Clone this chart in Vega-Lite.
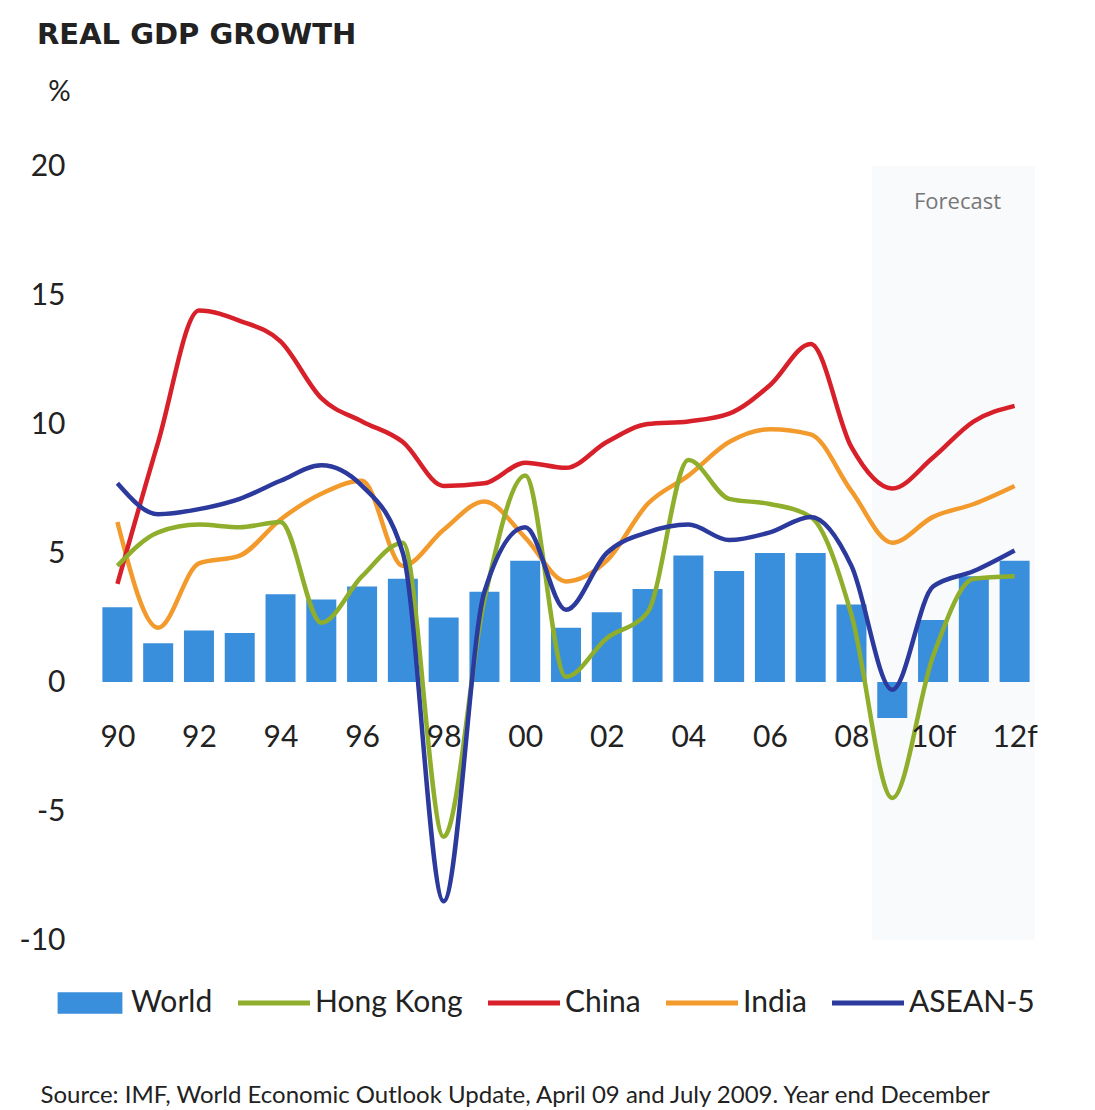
{
  "$schema": "https://vega.github.io/schema/vega-lite/v6.json",
  "width": 948,
  "height": 774,
  "autosize": {"type": "none"},
  "padding": {"left": 92, "top": 166, "right": 55, "bottom": 170},
  "background": "white",
  "config": {
    "view": {"stroke": null},
    "font": "Lato",
    "axis": {"labelFont": "Lato", "titleFont": "Lato", "labelColor": "#222", "titleColor": "#222"}
  },
  "title": {
    "text": "REAL GDP GROWTH",
    "anchor": "start",
    "frame": "group",
    "dx": -55,
    "font": "DejaVu Sans",
    "fontSize": 29,
    "fontWeight": "bold",
    "color": "#222",
    "offset": 28
  },
  "datasets": {
    "world": [
      {"year": 1990, "value": 2.9}, {"year": 1991, "value": 1.5}, {"year": 1992, "value": 2.0},
      {"year": 1993, "value": 1.9}, {"year": 1994, "value": 3.4}, {"year": 1995, "value": 3.2},
      {"year": 1996, "value": 3.7}, {"year": 1997, "value": 4.0}, {"year": 1998, "value": 2.5},
      {"year": 1999, "value": 3.5}, {"year": 2000, "value": 4.7}, {"year": 2001, "value": 2.1},
      {"year": 2002, "value": 2.7}, {"year": 2003, "value": 3.6}, {"year": 2004, "value": 4.9},
      {"year": 2005, "value": 4.3}, {"year": 2006, "value": 5.0}, {"year": 2007, "value": 5.0},
      {"year": 2008, "value": 3.0}, {"year": 2009, "value": -1.4}, {"year": 2010, "value": 2.4},
      {"year": 2011, "value": 4.1}, {"year": 2012, "value": 4.7}
    ],
    "series": [
      {"series": "India", "year": 1990, "value": 6.2}, {"series": "India", "year": 1991, "value": 2.1},
      {"series": "India", "year": 1992, "value": 4.6}, {"series": "India", "year": 1993, "value": 4.9},
      {"series": "India", "year": 1994, "value": 6.3}, {"series": "India", "year": 1995, "value": 7.3},
      {"series": "India", "year": 1996, "value": 7.8}, {"series": "India", "year": 1997, "value": 4.5},
      {"series": "India", "year": 1998, "value": 5.9}, {"series": "India", "year": 1999, "value": 7.0},
      {"series": "India", "year": 2000, "value": 5.6}, {"series": "India", "year": 2001, "value": 3.9},
      {"series": "India", "year": 2002, "value": 4.7}, {"series": "India", "year": 2003, "value": 6.9},
      {"series": "India", "year": 2004, "value": 8.0}, {"series": "India", "year": 2005, "value": 9.3},
      {"series": "India", "year": 2006, "value": 9.8}, {"series": "India", "year": 2007, "value": 9.6},
      {"series": "India", "year": 2008, "value": 7.4}, {"series": "India", "year": 2009, "value": 5.4},
      {"series": "India", "year": 2010, "value": 6.4}, {"series": "India", "year": 2011, "value": 6.9},
      {"series": "India", "year": 2012, "value": 7.6},
      {"series": "China", "year": 1990, "value": 3.8}, {"series": "China", "year": 1991, "value": 9.3},
      {"series": "China", "year": 1992, "value": 14.4}, {"series": "China", "year": 1993, "value": 14.0},
      {"series": "China", "year": 1994, "value": 13.2}, {"series": "China", "year": 1995, "value": 11.0},
      {"series": "China", "year": 1996, "value": 10.1}, {"series": "China", "year": 1997, "value": 9.3},
      {"series": "China", "year": 1998, "value": 7.6}, {"series": "China", "year": 1999, "value": 7.7},
      {"series": "China", "year": 2000, "value": 8.5}, {"series": "China", "year": 2001, "value": 8.3},
      {"series": "China", "year": 2002, "value": 9.3}, {"series": "China", "year": 2003, "value": 10.0},
      {"series": "China", "year": 2004, "value": 10.1}, {"series": "China", "year": 2005, "value": 10.4},
      {"series": "China", "year": 2006, "value": 11.5}, {"series": "China", "year": 2007, "value": 13.1},
      {"series": "China", "year": 2008, "value": 9.1}, {"series": "China", "year": 2009, "value": 7.5},
      {"series": "China", "year": 2010, "value": 8.7}, {"series": "China", "year": 2011, "value": 10.1},
      {"series": "China", "year": 2012, "value": 10.7},
      {"series": "Hong Kong", "year": 1990, "value": 4.5}, {"series": "Hong Kong", "year": 1991, "value": 5.8},
      {"series": "Hong Kong", "year": 1992, "value": 6.1}, {"series": "Hong Kong", "year": 1993, "value": 6.0},
      {"series": "Hong Kong", "year": 1994, "value": 6.2}, {"series": "Hong Kong", "year": 1995, "value": 2.3},
      {"series": "Hong Kong", "year": 1996, "value": 4.1}, {"series": "Hong Kong", "year": 1997, "value": 5.4},
      {"series": "Hong Kong", "year": 1998, "value": -6.0}, {"series": "Hong Kong", "year": 1999, "value": 3.2},
      {"series": "Hong Kong", "year": 2000, "value": 8.0}, {"series": "Hong Kong", "year": 2001, "value": 0.2},
      {"series": "Hong Kong", "year": 2002, "value": 1.7}, {"series": "Hong Kong", "year": 2003, "value": 2.7},
      {"series": "Hong Kong", "year": 2004, "value": 8.6}, {"series": "Hong Kong", "year": 2005, "value": 7.1},
      {"series": "Hong Kong", "year": 2006, "value": 6.9}, {"series": "Hong Kong", "year": 2007, "value": 6.4},
      {"series": "Hong Kong", "year": 2008, "value": 2.6}, {"series": "Hong Kong", "year": 2009, "value": -4.5},
      {"series": "Hong Kong", "year": 2010, "value": 1.0}, {"series": "Hong Kong", "year": 2011, "value": 4.0},
      {"series": "Hong Kong", "year": 2012, "value": 4.1},
      {"series": "ASEAN-5", "year": 1990, "value": 7.7}, {"series": "ASEAN-5", "year": 1991, "value": 6.5},
      {"series": "ASEAN-5", "year": 1992, "value": 6.7}, {"series": "ASEAN-5", "year": 1993, "value": 7.1},
      {"series": "ASEAN-5", "year": 1994, "value": 7.8}, {"series": "ASEAN-5", "year": 1995, "value": 8.4},
      {"series": "ASEAN-5", "year": 1996, "value": 7.6}, {"series": "ASEAN-5", "year": 1997, "value": 5.0},
      {"series": "ASEAN-5", "year": 1998, "value": -8.5}, {"series": "ASEAN-5", "year": 1999, "value": 3.5},
      {"series": "ASEAN-5", "year": 2000, "value": 6.0}, {"series": "ASEAN-5", "year": 2001, "value": 2.8},
      {"series": "ASEAN-5", "year": 2002, "value": 5.0}, {"series": "ASEAN-5", "year": 2003, "value": 5.8},
      {"series": "ASEAN-5", "year": 2004, "value": 6.1}, {"series": "ASEAN-5", "year": 2005, "value": 5.5},
      {"series": "ASEAN-5", "year": 2006, "value": 5.8}, {"series": "ASEAN-5", "year": 2007, "value": 6.4},
      {"series": "ASEAN-5", "year": 2008, "value": 4.5}, {"series": "ASEAN-5", "year": 2009, "value": -0.3},
      {"series": "ASEAN-5", "year": 2010, "value": 3.7}, {"series": "ASEAN-5", "year": 2011, "value": 4.3},
      {"series": "ASEAN-5", "year": 2012, "value": 5.1}
    ],
    "forecast": [{"start": 2008.5, "end": 2012.5, "label": "Forecast"}]
  },
  "layer": [
    {
      "data": {"name": "forecast"},
      "mark": {"type": "rect", "color": "#f8fafb"},
      "encoding": {
        "x": {"field": "start", "type": "quantitative"},
        "x2": {"field": "end"}
      }
    },
    {
      "data": {"name": "forecast"},
      "mark": {"type": "text", "font": "Open Sans", "fontSize": 22, "color": "#777", "align": "center", "baseline": "middle"},
      "encoding": {
        "x": {"datum": 2010.6, "type": "quantitative"},
        "y": {"datum": 18.6, "type": "quantitative"},
        "text": {"field": "label"}
      }
    },
    {
      "data": {"name": "world"},
      "mark": {"type": "bar", "size": 30, "color": "#3a8fdc"},
      "encoding": {
        "x": {
          "field": "year", "type": "quantitative",
          "scale": {"domain": [1989.5, 2012.5], "nice": false, "zero": false},
          "axis": {
            "values": [1990, 1992, 1994, 1996, 1998, 2000, 2002, 2004, 2006, 2008, 2010, 2012],
            "labelExpr": "substring(toString(datum.value), 2, 4) + (datum.value >= 2010 ? 'f' : '')",
            "offset": -258,
            "zindex": 1,
            "domain": false, "ticks": false, "grid": false,
            "labelFontSize": 30, "labelPadding": 40, "labelFlush": false,
            "title": "Source: IMF, World Economic Outlook Update, April 09 and July 2009. Year end December",
            "titleFontSize": 24, "titleFontWeight": "normal",
            "titleAnchor": "start", "titleAlign": "left", "titleBaseline": "middle",
            "titleX": -52, "titleY": 413
          }
        },
        "y": {
          "field": "value", "type": "quantitative",
          "scale": {"domain": [-10, 20], "nice": false},
          "axis": {
            "values": [-10, -5, 0, 5, 10, 15, 20],
            "labelExpr": "toString(datum.value)",
            "domain": false, "ticks": false,
            "gridColor": "#cccccc", "gridWidth": 1,
            "labelFontSize": 30, "labelPadding": 27,
            "title": "%", "titleAngle": 0, "titleFontSize": 28, "titleFontWeight": "normal",
            "titleAlign": "center", "titleBaseline": "middle",
            "titleX": -33, "titleY": -74
          }
        }
      }
    },
    {
      "data": {"name": "series"},
      "mark": {"type": "line", "interpolate": "monotone", "strokeWidth": 4.5},
      "encoding": {
        "x": {"field": "year", "type": "quantitative"},
        "y": {"field": "value", "type": "quantitative"},
        "color": {
          "field": "series", "type": "nominal",
          "scale": {
            "domain": ["World", "Hong Kong", "China", "India", "ASEAN-5"],
            "range": ["#3a8fdc", "#8fae2b", "#d7202a", "#f39a2c", "#2b3a9c"]
          },
          "legend": {
            "orient": "none", "legendX": -17, "legendY": 822,
            "direction": "horizontal", "title": null,
            "labelFont": "Lato", "labelFontSize": 30, "labelColor": "#222", "labelLimit": 400,
            "symbolType": "stroke", "symbolSize": 5184, "symbolStrokeWidth": 5,
            "labelOffset": 26, "columnPadding": 15,
            "encode": {
              "symbols": {
                "update": {
                  "shape": {"signal": "datum.label === 'World' ? 'M-0.9,-0.3H0.9V0.3H-0.9Z' : 'stroke'"},
                  "fill": {"signal": "datum.label === 'World' ? '#3a8fdc' : 'transparent'"},
                  "strokeWidth": {"signal": "datum.label === 'World' ? 0 : 5"}
                }
              }
            }
          }
        },
        "order": {"field": "year"}
      }
    }
  ]
}
